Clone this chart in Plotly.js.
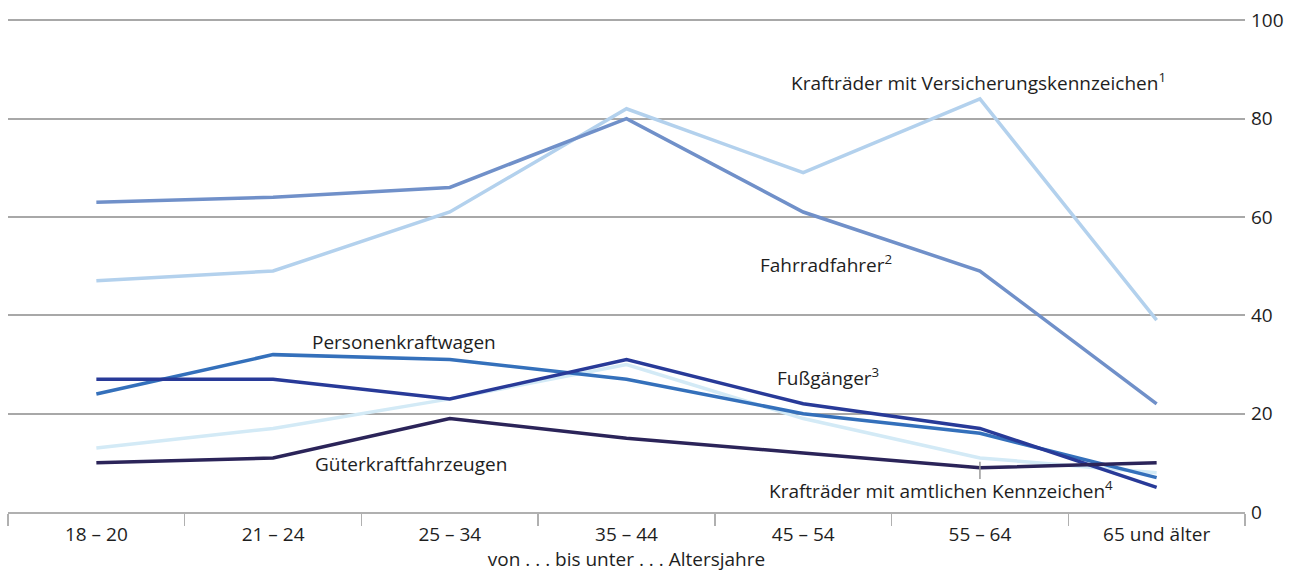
<!DOCTYPE html>
<html>
<head>
<meta charset="utf-8">
<script src="https://cdn.plot.ly/plotly-3.0.1.min.js"></script>
<style>
  html, body { margin: 0; padding: 0; background: #fff; }
  #chart { width: 1298px; height: 572px; }
</style>
</head>
<body>
<div id="chart"></div>
<script>
// Altersgruppen
const ageGroups = ['18 – 20', '21 – 24', '25 – 34', '35 – 44', '45 – 54', '55 – 64', '65 und älter'];

// Werte je Verkehrsbeteiligung
const kraftraederVersicherung = [47, 49, 61, 82, 69, 84, 39];
const fahrradfahrer = [63, 64, 66, 80, 61, 49, 22];
const personenkraftwagen = [24, 32, 31, 27, 20, 16, 7];
const fussgaenger = [27, 27, 23, 31, 22, 17, 5];
const gueterkraftfahrzeuge = [10, 11, 19, 15, 12, 9, 10];
const kraftraederAmtlich = [13, 17, 23, 30, 19, 11, 8];

const yTicks = [0, 20, 40, 60, 80, 100];

const FONT = 'Open Sans, Arial, sans-serif';
const TEXT = '#1e1e1e';
const SIZE = 19;

function line(y, color, name) {
    return {
        x: ageGroups,
        y: y,
        name: name,
        type: 'scatter',
        mode: 'lines',
        line: { color: color, width: 3.5 },
        hoverinfo: 'skip'
    };
}

const traces = [
    line(kraftraederAmtlich, '#d3eaf6', 'Krafträder mit amtlichen Kennzeichen'),
    line(kraftraederVersicherung, '#b3d1ed', 'Krafträder mit Versicherungskennzeichen'),
    line(fahrradfahrer, '#7090c9', 'Fahrradfahrer'),
    line(personenkraftwagen, '#3470bb', 'Personenkraftwagen'),
    line(fussgaenger, '#283a98', 'Fußgänger'),
    line(gueterkraftfahrzeuge, '#2b2459', 'Güterkraftfahrzeugen')
];

function label(text, x, y) {
    return {
        text: text, x: x, y: y, xref: 'x', yref: 'y',
        showarrow: false,
        font: { family: FONT, size: SIZE, color: TEXT }
    };
}

const annotations = [
    label('Krafträder mit Versicherungskennzeichen<sup>1</sup>', 4.99, 87.4),
    label('Fahrradfahrer<sup>2</sup>', 4.13, 50.4),
    label('Personenkraftwagen', 1.74, 34.6),
    label('Fußgänger<sup>3</sup>', 4.14, 27.4),
    label('Güterkraftfahrzeugen', 1.78, 9.8),
    label('Krafträder mit amtlichen Kennzeichen<sup>4</sup>', 4.78, 4.5)
];

// kurze Hinweislinie zum Label "Krafträder mit amtlichen Kennzeichen"
const shapes = [
    {
        type: 'line', xref: 'x', yref: 'y',
        x0: 5.0, x1: 5.0, y0: 10.2, y1: 6.7,
        line: { color: '#999999', width: 1.5 }
    }
];

const layout = {
    width: 1298,
    height: 572,
    margin: { l: 8, r: 53, t: 19, b: 60 },
    paper_bgcolor: '#ffffff',
    plot_bgcolor: '#ffffff',
    showlegend: false,
    font: { family: FONT, size: SIZE, color: TEXT },
    xaxis: {
        type: 'category',
        range: [-0.5, 6.5],
        showgrid: false,
        zeroline: false,
        showline: true,
        linecolor: '#b0b0b0',
        linewidth: 2,
        ticks: 'outside',
        tickson: 'boundaries',
        ticklen: 12,
        tickwidth: 1.5,
        tickcolor: '#b0b0b0',
        ticklabelstandoff: 4,
        tickfont: { family: FONT, size: SIZE, color: TEXT },
        title: {
            text: 'von . . . bis unter . . . Altersjahre',
            font: { family: FONT, size: SIZE, color: TEXT },
            standoff: 2
        },
        fixedrange: true
    },
    yaxis: {
        side: 'right',
        range: [0, 100.25],
        tickvals: yTicks,
        ticktext: yTicks.map(String),
        showgrid: true,
        gridcolor: '#a8a8a8',
        gridwidth: 2,
        zeroline: false,
        showline: false,
        ticks: '',
        ticklabelstandoff: 5,
        tickfont: { family: FONT, size: SIZE, color: TEXT },
        fixedrange: true
    },
    shapes: shapes,
    annotations: annotations
};

Plotly.newPlot('chart', traces, layout, { displayModeBar: false, staticPlot: true });
</script>
</body>
</html>
